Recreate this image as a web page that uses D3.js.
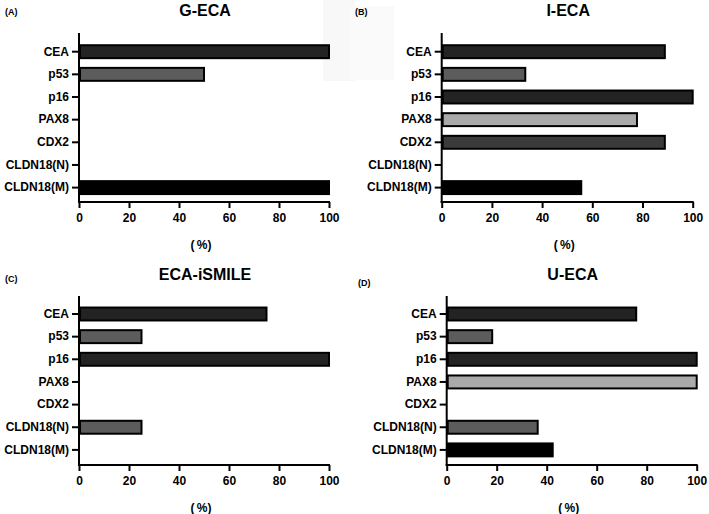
<!DOCTYPE html>
<html><head><meta charset="utf-8">
<script src="https://cdn.jsdelivr.net/npm/d3@7"></script>
<style>body{margin:0;background:#fff}svg{display:block}text{font-family:"Liberation Sans",Arial,sans-serif;font-weight:bold;fill:#000}</style>
</head><body><svg id="c" width="709" height="514"></svg>
<script>
const categories = ["CEA","p53","p16","PAX8","CDX2","CLDN18(N)","CLDN18(M)"];
const barColors = ["#232323","#5c5c5c","#232323","#aaaaaa","#3b3b3b","#5c5c5c","#000000"];
const xTicks = [0,20,40,60,80,100];
const titles = ["G-ECA","I-ECA","ECA-iSMILE","U-ECA"];
const panelLabels = ["(A)","(B)","(C)","(D)"];
const valuesA = [100,50,0,0,0,0,100];
const valuesB = [88.9,33.3,100,77.8,88.9,0,55.6];
const valuesC = [75,25,100,0,0,25,0];
const valuesD = [75.8,18.2,100,100,0,36.4,42.4];
const allValues = [valuesA,valuesB,valuesC,valuesD];

const svg = d3.select("#c");
// faint background artifacts
svg.append("rect").attr("x",323).attr("y",0).attr("width",32).attr("height",81).attr("fill","#f8f8f8");
svg.append("rect").attr("x",350).attr("y",6).attr("width",44).attr("height",74).attr("fill","#fafafa");

const layout = [
  {x0:79, x1:329, top:33, bottom:202, c0:51.7, lab:[5,12], titleY:16},
  {x0:441.7, x1:692.7, top:33, bottom:202, c0:51.7, lab:[355,12], titleY:16},
  {x0:79, x1:329, top:296, bottom:465, c0:314, lab:[5,279], titleY:280},
  {x0:446.7, x1:696.7, top:296, bottom:465, c0:314, lab:[358,283], titleY:280}
];
const step = 22.65;
const FONT = "Liberation Sans, Arial, sans-serif";
layout.forEach((L,i)=>{
  const g = svg.append("g");
  const x = d3.scaleLinear().domain([0,100]).range([L.x0,L.x1]);
  const y = d3.scaleBand().domain(categories)
    .range([L.c0-step/2, L.c0-step/2+step*categories.length]).paddingInner(0.34).paddingOuter(0.17);
  const vals = allValues[i];
  // bars
  g.selectAll("rect.bar").data(categories.map((c,k)=>({c,v:vals[k],k})).filter(d=>d.v>0))
    .join("rect").attr("class","bar")
    .attr("x",x(0)+1).attr("y",d=>y(d.c)+1)
    .attr("width",d=>x(d.v)-x(0)-1).attr("height",y.bandwidth()-2)
    .attr("fill",d=>barColors[d.k]).attr("stroke","#000").attr("stroke-width",2);
  // y axis
  const ya = d3.axisLeft(y).tickSize(7).tickPadding(3);
  const yg = g.append("g").attr("transform",`translate(${L.x0},0)`).call(ya);
  yg.select(".domain").remove();
  yg.selectAll(".tick line").attr("stroke","#000").attr("stroke-width",2);
  yg.selectAll(".tick text").style("font-size","12px").style("font-family",FONT).style("font-weight","bold");
  // x axis
  const xa = d3.axisBottom(x).tickValues(xTicks).tickSize(6).tickPadding(5);
  const xg = g.append("g").attr("transform",`translate(0,${L.bottom})`).call(xa);
  xg.select(".domain").remove();
  xg.selectAll(".tick line").attr("stroke","#000").attr("stroke-width",2);
  xg.selectAll(".tick text").style("font-size","12px").style("font-family",FONT).style("font-weight","bold");
  // axis lines
  g.append("line").attr("x1",L.x0).attr("x2",L.x0).attr("y1",L.top).attr("y2",L.bottom+1)
    .attr("stroke","#000").attr("stroke-width",2);
  g.append("line").attr("x1",L.x0-1).attr("x2",L.x1+1).attr("y1",L.bottom).attr("y2",L.bottom)
    .attr("stroke","#000").attr("stroke-width",2);
  // x title
  g.append("text").attr("x",(L.x0+L.x1)/2-3).attr("y",L.bottom+47).attr("text-anchor","middle")
    .style("font-size","12px").text("(\u2009%)");
  // title
  g.append("text").attr("x",(L.x0+L.x1)/2+1).attr("y",L.titleY).attr("text-anchor","middle")
    .style("font-size","16px").text(titles[i]);
  // panel label
  g.append("text").attr("x",L.lab[0]).attr("y",L.lab[1]+3)
    .style("font-size","9px").text(panelLabels[i]);
});
</script></body></html>
